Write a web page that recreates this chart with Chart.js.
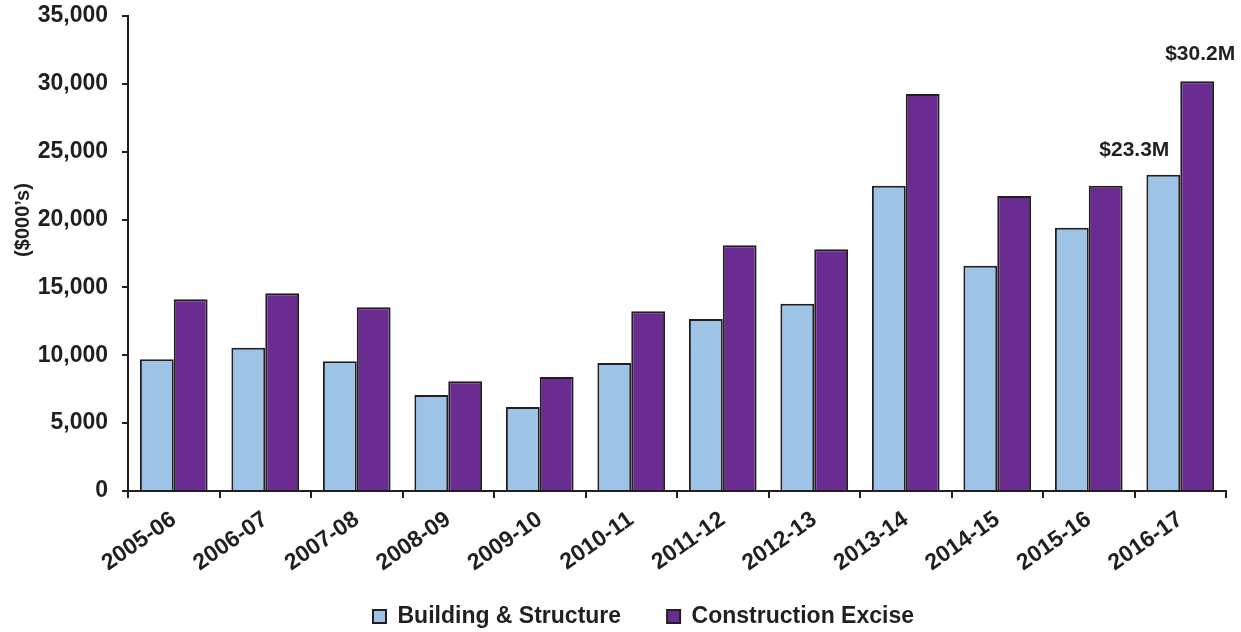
<!DOCTYPE html>
<html>
<head>
<meta charset="utf-8">
<title>Building &amp; Structure vs Construction Excise</title>
<script src="https://cdn.jsdelivr.net/npm/chart.js@4.4.0/dist/chart.umd.min.js"></script>
<style>
  html, body { margin: 0; padding: 0; background: #fff; }
  #wrap { width: 1241px; height: 632px; }
</style>
</head>
<body>
<div id="wrap"><canvas id="revenueChart" width="1241" height="632"></canvas></div>
<script>
// --- Data ($000's) ---
const fiscalYears = ["2005-06", "2006-07", "2007-08", "2008-09", "2009-10", "2010-11",
                     "2011-12", "2012-13", "2013-14", "2014-15", "2015-16", "2016-17"];
const buildingStructure = [9700, 10560, 9560, 7070, 6190, 9430, 12670, 13800, 22500, 16600, 19400, 23300];
const constructionExcise = [14130, 14570, 13540, 8080, 8400, 13240, 18100, 17810, 29260, 21740, 22500, 30200];
const yTicks = [0, 5000, 10000, 15000, 20000, 25000, 30000, 35000];

const INK = "#231F20";
const FONT = "'Liberation Sans', Arial, sans-serif";

// $ millions label over the latest year's bars
const latestCallouts = {
  id: "latestCallouts",
  afterDatasetsDraw(chart) {
    const ctx = chart.ctx;
    const last = fiscalYears.length - 1;
    const spots = [
      { ds: 0, dx: -29, dy: -19 },
      { ds: 1, dx: 3, dy: -21 }
    ];
    ctx.save();
    ctx.font = "bold 21px " + FONT;
    ctx.fillStyle = INK;
    ctx.textAlign = "center";
    ctx.textBaseline = "alphabetic";
    spots.forEach(s => {
      const bar = chart.getDatasetMeta(s.ds).data[last];
      const v = chart.data.datasets[s.ds].data[last];
      ctx.fillText("$" + (v / 1000).toFixed(1) + "M", bar.x + s.dx, bar.y + s.dy);
    });
    ctx.restore();
  }
};

// y axis caption sits a little above the middle of the axis
const unitCaption = {
  id: "unitCaption",
  afterDraw(chart) {
    const ctx = chart.ctx;
    ctx.save();
    ctx.translate(23, 220);
    ctx.rotate(-Math.PI / 2);
    ctx.font = "bold 20px " + FONT;
    ctx.fillStyle = INK;
    ctx.textAlign = "center";
    ctx.textBaseline = "middle";
    ctx.fillText("($000\u2019s)", 0, 0);
    ctx.restore();
  }
};

// scales clip their labels to their own box; widen the boxes after layout
// so the tight layout below doesn't cut the tick labels off
const roomForLabels = {
  id: "roomForLabels",
  afterLayout(chart) {
    chart.scales.x.bottom = chart.height;
    chart.scales.y.left = 0;
  }
};

const ctx = document.getElementById("revenueChart").getContext("2d");
const revenueChart = new Chart(ctx, {
  type: "bar",
  data: {
    labels: fiscalYears,
    datasets: [
      {
        label: "Building & Structure",
        data: buildingStructure,
        backgroundColor: "#9DC3E6",
        borderColor: INK,
        borderWidth: 2
      },
      {
        label: "Construction Excise",
        data: constructionExcise,
        backgroundColor: "#6A2C91",
        borderColor: INK,
        borderWidth: 2
      }
    ]
  },
  options: {
    responsive: false,
    animation: false,
    // left padding nudges the legend right; y axis width makes up the rest
    layout: { padding: { left: 61, right: 15, top: 16, bottom: -6 } },
    datasets: {
      bar: { categoryPercentage: 0.74, barPercentage: 1.0 }
    },
    plugins: {
      legend: {
        position: "bottom",
        labels: {
          boxWidth: 13,
          boxHeight: 13,
          padding: 46,
          color: INK,
          font: { family: FONT, size: 23, weight: "bold" }
        }
      },
      tooltip: { enabled: false }
    },
    scales: {
      x: {
        grid: { drawOnChartArea: false, tickLength: 7, color: INK, lineWidth: 2, offset: true },
        border: { color: INK, width: 2 },
        ticks: {
          color: INK,
          minRotation: 35,
          maxRotation: 35,
          padding: 8,
          font: { family: FONT, size: 23, weight: "bold" }
        },
        afterFit(scale) {
          scale.height = 68;
          scale.paddingLeft = 0;
          scale.paddingRight = 0;
        }
      },
      y: {
        min: 0,
        max: 35000,
        afterBuildTicks(scale) { scale.ticks = yTicks.map(v => ({ value: v })); },
        grid: { drawOnChartArea: false, tickLength: 6, color: INK, lineWidth: 2 },
        border: { color: INK, width: 2 },
        ticks: {
          color: INK,
          padding: 14,
          font: { family: FONT, size: 23, weight: "bold" },
          callback: v => v.toLocaleString("en-US")
        },
        afterFit(scale) {
          scale.width = 67;
          scale.paddingTop = 0;
          scale.paddingBottom = 0;
        }
      }
    }
  },
  plugins: [latestCallouts, unitCaption, roomForLabels]
});
</script>
</body>
</html>
